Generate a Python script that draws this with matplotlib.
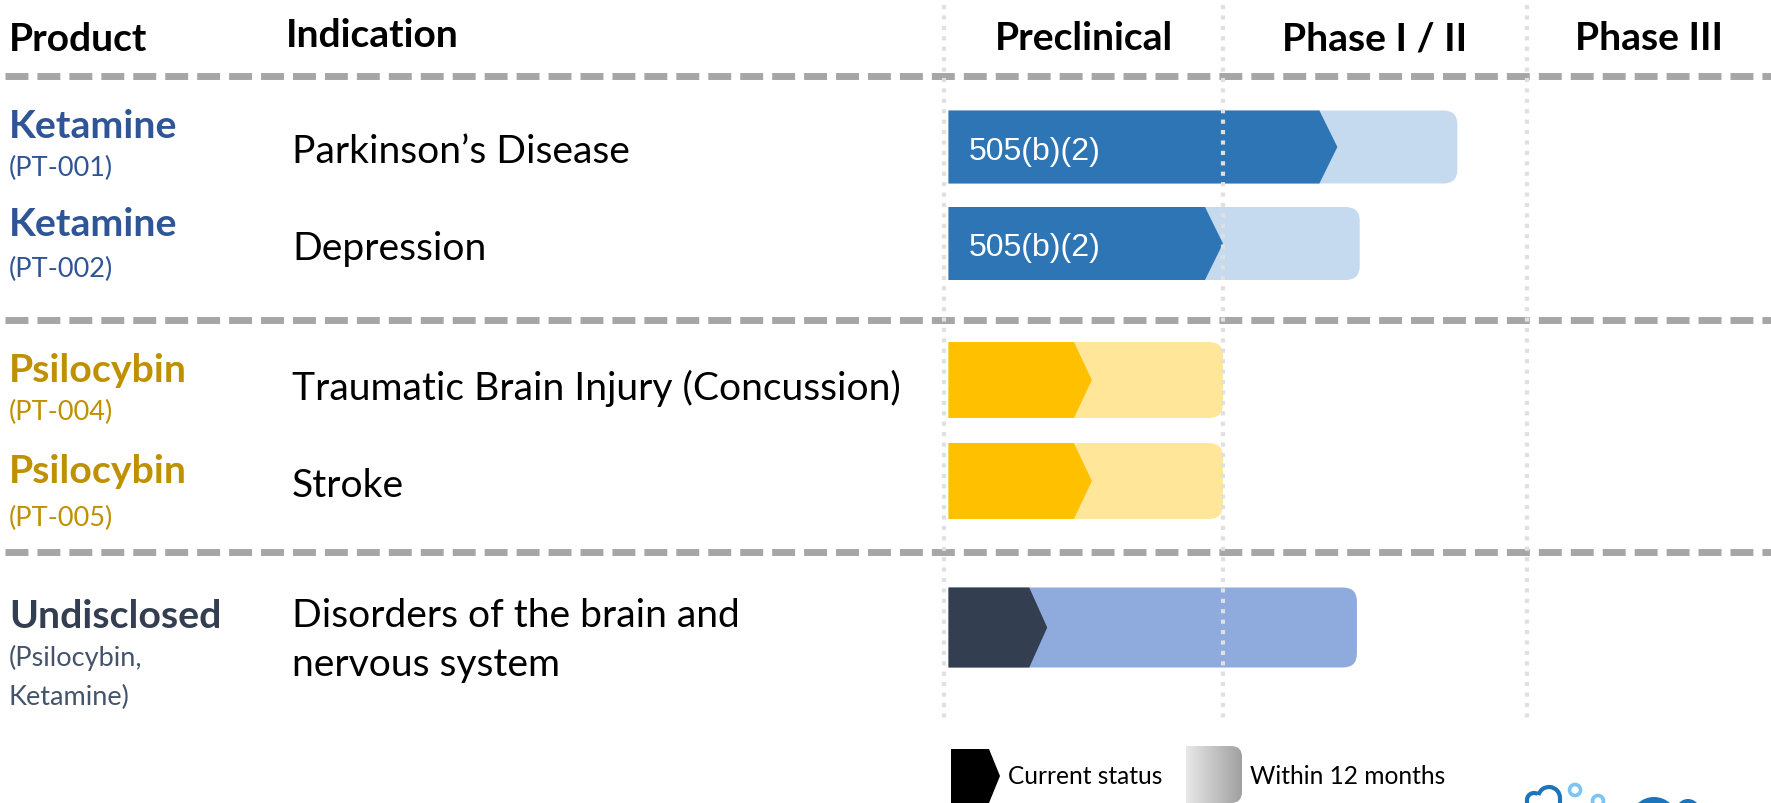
import matplotlib
matplotlib.use("Agg")
import matplotlib.pyplot as plt
import numpy as np
from matplotlib.patches import Polygon, PathPatch, Circle, Arc
from matplotlib.path import Path
from matplotlib.colors import LinearSegmentedColormap

# ------------------------------------------------------------------ data
headers = ["Product", "Indication"]
phases = ["Preclinical", "Phase I / II", "Phase III"]
products = ["Ketamine", "Ketamine", "Psilocybin", "Psilocybin", "Undisclosed"]
product_codes = [["(PT-001)"], ["(PT-002)"], ["(PT-004)"], ["(PT-005)"],
                 ["(Psilocybin,", "Ketamine)"]]
indications = [["Parkinson\u2019s Disease"], ["Depression"],
               ["Traumatic Brain Injury (Concussion)"], ["Stroke"],
               ["Disorders of the brain and", "nervous system"]]
groups = [0, 0, 1, 1, 2]
# progress in phase units (0 = start of Preclinical, 1 = start of Phase I/II)
current_status = [1.41, 1.00, 0.53, 0.53, 0.37]
within_12_months = [1.84, 1.49, 1.00, 1.00, 1.48]
bar_labels = ["505(b)(2)", "505(b)(2)", "", "", ""]
legend_labels = ["Current status", "Within 12 months"]

# ------------------------------------------------------------------ layout / style
W, H = 1771, 804
X0, PX = 944, 279                 # pixel of phase 0 and pixels per phase unit
phase_edges = [0, 1, 2.09]
bar_start = 0.016
row_y = [148, 244.5, 381, 482, 628.5]
bar_h = [73, 73, 76, 76, 80]
chev = 18                          # chevron depth (px)
RAD = 14                           # corner radius (px)
dark_cols = ["#2E75B6", "#FFC000", "#333F50"]
light_cols = ["#C5DAEE", "#FFE699", "#8FAADC"]
name_cols = ["#2F5597", "#BF9000", "#333F50"]
code_cols = ["#2F5597", "#BF9000", "#44546A"]
sep_y = [77, 321, 553]
FONT = "Lato"

fig = plt.figure(figsize=(W / 100, H / 100), dpi=100)
ax = fig.add_axes([0, 0, 1, 1])
ax.set_xlim(0, W); ax.set_ylim(H, 0); ax.axis("off")
bx = fig.add_axes([0, 0, 1, 1])
bx.set_xlim(-X0 / PX, (W - X0) / PX); bx.set_ylim(H, 0); bx.axis("off")
bx.patch.set_alpha(0)

renderer = fig.canvas.get_renderer()


def fit(s, target, family=FONT, **kw):
    t = ax.text(0, 0, s, fontsize=20, family=family, **kw)
    w = t.get_window_extent(renderer).width
    t.remove()
    return 20 * target / w


def right_round(x0, y0, x1, y1, rx, ry):
    verts = [(x0, y0), (x1 - rx, y0), (x1, y0), (x1, y0 + ry), (x1, y1 - ry),
             (x1, y1), (x1 - rx, y1), (x0, y1), (x0, y0)]
    codes = [Path.MOVETO, Path.LINETO, Path.CURVE3, Path.CURVE3, Path.LINETO,
             Path.CURVE3, Path.CURVE3, Path.LINETO, Path.CLOSEPOLY]
    return Path(verts, codes)


fs_head = fit("Preclinical", 178, weight="bold")
fs_name = fit("Ketamine", 168, weight="bold")
fs_code = fit("(PT-001)", 104)
fs_ind = fit("Parkinson\u2019s Disease", 338)
fs_leg = fit("Current status", 155)
fs_lab = fit("505(b)(2)", 132, family="Liberation Sans")

# headers
ax.text(9, 51, headers[0], fontsize=fs_head, weight="bold", family=FONT, va="baseline")
ax.text(286, 47, headers[1], fontsize=fs_head, weight="bold", family=FONT, va="baseline")
edges_r = phase_edges + [(W - X0) / PX]
for k, p in enumerate(phases):
    bx.text((edges_r[k] + edges_r[k + 1]) / 2, 50, p, fontsize=fs_head, weight="bold",
            family=FONT, ha="center", va="baseline")

# separators
ax.hlines(sep_y, 5, W, colors="#A6A6A6", lw=5, linestyles=[(0, (3.3, 1.3))])

# rows
name_base = [138, 236, 382, 483, 628]
code_base = [176, 277, 420, 526, 666]
code_step = 39
ind_base = [163, 260, 400, 497, 627]
ind_step = 49
for i in range(len(products)):
    g = groups[i]
    ax.text(9, name_base[i], products[i], fontsize=fs_name, weight="bold", family=FONT,
            color=name_cols[g], va="baseline")
    for j, line in enumerate(product_codes[i]):
        ax.text(9, code_base[i] + j * code_step, line, fontsize=fs_code, family=FONT,
                color=code_cols[g], va="baseline")
    for j, line in enumerate(indications[i]):
        ax.text(292, ind_base[i] + j * ind_step, line, fontsize=fs_ind, family=FONT,
                color="black", va="baseline")

    yc, h = row_y[i], bar_h[i]
    top, bot = yc - h / 2, yc + h / 2
    light = PathPatch(right_round(bar_start, top, within_12_months[i], bot, RAD / PX, RAD),
                      fc=light_cols[g], ec="none", zorder=2)
    bx.add_patch(light)
    c = current_status[i]
    d = chev / PX
    dark = Polygon([(bar_start, top), (c - d, top), (c, yc), (c - d, bot), (bar_start, bot)],
                   closed=True, fc=dark_cols[g], ec="none", zorder=3)
    bx.add_patch(dark)
    if bar_labels[i]:
        bx.text(bar_start + 20 / PX, yc + 12, bar_labels[i], fontsize=fs_lab,
                family="Liberation Sans", color="white", va="baseline", zorder=4)

# vertical phase lines (drawn over bars)
bx.vlines(phase_edges, 6, 723, colors="#E0E0E0", lw=3, linestyles=[(0, (1, 1.5))], zorder=5)

# legend
ax.add_patch(Polygon([(951, 750), (989, 750), (1000, 777), (989, 804), (951, 804)],
                     closed=True, fc="black", ec="none"))
ax.text(1008, 777, legend_labels[0], fontsize=fs_leg, family=FONT, va="center")
cmap = LinearSegmentedColormap.from_list("g", ["#E8E8E8", "#A0A0A0"])
im = ax.imshow(np.linspace(0, 1, 256).reshape(1, -1), cmap=cmap,
               extent=(1186, 1242, 804, 747), aspect="auto", zorder=2)
clip = PathPatch(right_round(1186, 747, 1242, 804, 11, 11), fc="none", ec="none",
                 transform=ax.transData)
ax.add_patch(clip)
im.set_clip_path(clip)
ax.text(1250, 777, legend_labels[1], fontsize=fs_leg, family=FONT, va="center")

# logo fragment (bottom right, cut off by the page edge)
logo_dark, logo_light = "#1B75BC", "#7CC3F6"
ax.add_patch(Arc((1534, 801), 14, 14, theta1=180, theta2=300, lw=3, color=logo_dark))
ax.add_patch(Arc((1549, 799), 22, 22, theta1=195, theta2=360, lw=3, color=logo_dark))
ax.plot([1527, 1527], [801, 805], color=logo_dark, lw=3, solid_capstyle="butt")
ax.plot([1560, 1560], [799, 805], color=logo_dark, lw=3, solid_capstyle="butt")
ax.add_patch(Circle((1575, 791), 5.5, fc="white", ec=logo_light, lw=2.6))
ax.add_patch(Circle((1598, 802), 5.5, fc="white", ec=logo_light, lw=2.6))
ax.add_patch(Circle((1654, 822), 24, fc=logo_dark, ec="none"))
ax.add_patch(Circle((1688, 812), 12, fc=logo_dark, ec="none"))

ax.set_xlim(0, W); ax.set_ylim(H, 0)
fig.savefig("out.png", dpi=100)
